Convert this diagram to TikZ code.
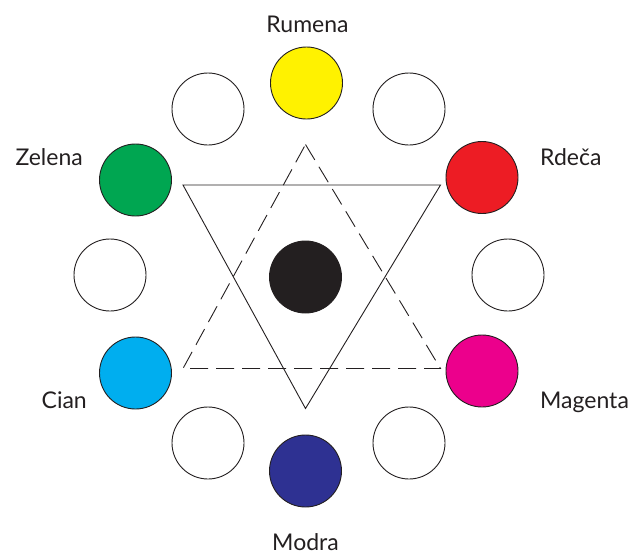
\documentclass[tikz,border=0pt]{standalone}
\usepackage{fontspec}
\setmainfont{Lato}
\usepackage{xcolor}
\usetikzlibrary{positioning}
\definecolor{ink}{HTML}{231F20}
\definecolor{cyellow}{HTML}{FFF200}
\definecolor{cred}{HTML}{ED1C24}
\definecolor{cmagenta}{HTML}{EC008C}
\definecolor{cblue}{HTML}{2E3192}
\definecolor{ccyan}{HTML}{00AEEF}
\definecolor{cgreen}{HTML}{00A651}
\tikzset{
  disc/.style={draw=ink, circle, line width=0.9pt, minimum size=72pt, inner sep=0pt},
  blank/.style={disc, fill=white},
  colorname/.style={text=ink, inner sep=0pt, font=\fontsize{23}{26}\selectfont},
  triline/.style={draw=ink, line width=0.9pt, line join=miter},
  dashline/.style={triline, dash pattern=on 18pt off 8pt}
}

\begin{document}
\begin{tikzpicture}[x=1pt,y=-1pt]
  \useasboundingbox (0,0) rectangle (630,550);

  % ring of discs
  \node[disc, fill=cyellow] (yellow) at (306.5,83) {};
  \node[disc, fill=cred] (red) at (482,177.5) {};
  \node[disc, fill=cmagenta] (magenta) at (482,371) {};
  \node[disc, fill=cblue] (blue) at (305.5,471) {};
  \node[disc, fill=ccyan] (cyan) at (135.5,373) {};
  \node[disc, fill=cgreen] (green) at (135.5,180) {};
  \node[blank] (w1) at (208,109) {};
  \node[blank] (w2) at (409,109) {};
  \node[blank] (w3) at (508,275) {};
  \node[blank] (w4) at (409,443) {};
  \node[blank] (w5) at (208,443) {};
  \node[blank] (w6) at (110,275) {};
  \node[disc, fill=ink] (black) at (305.5,277) {};

  % triangles
  \coordinate (s1) at (183,185);
  \coordinate (s2) at (440.5,185);
  \coordinate (s3) at (305.5,408.5);
  \coordinate (d1) at (305.5,144.5);
  \coordinate (d2) at (183,368.5);
  \coordinate (d3) at (440.5,368.5);
  \draw[triline] (s1) -- (s2) -- (s3) -- cycle;
  \draw[dashline] (d1) -- (d3) -- (d2) -- cycle;

  % labels
  \node[colorname, anchor=base] (lyellow) at (307.5,32) {Rumena};
  \node[colorname, anchor=base west] (lred) at (540,165) {Rdeča};
  \node[colorname, anchor=base west] (lmagenta) at (540,408) {Magenta};
  \node[colorname, anchor=base] (lblue) at (305.5,550) {Modra};
  \node[colorname, anchor=base east] (lcyan) at (87,408) {Cian};
  \node[colorname, anchor=base east] (lgreen) at (83,165) {Zelena};
\end{tikzpicture}
\end{document}
